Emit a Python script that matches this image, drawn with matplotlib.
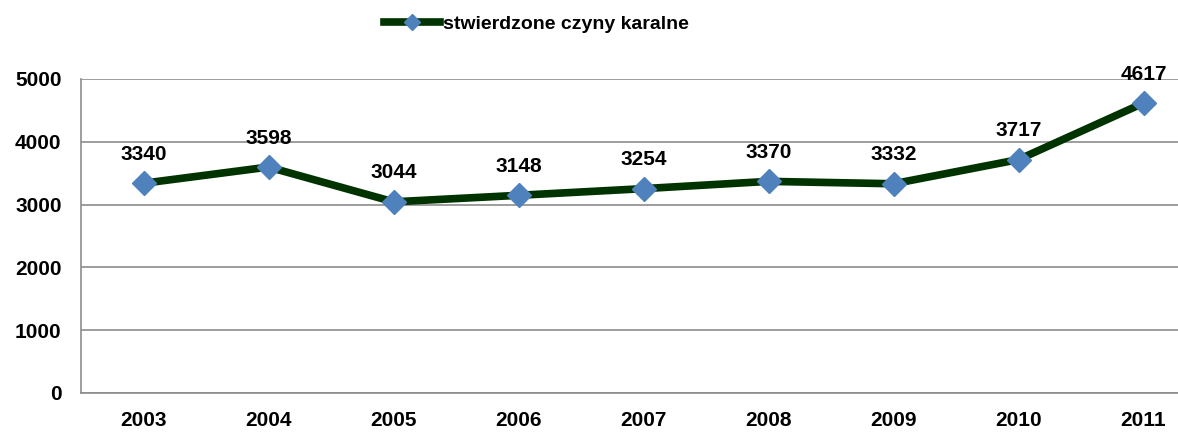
import matplotlib.pyplot as plt
from matplotlib.lines import Line2D

plt.rcParams['font.family'] = ['Liberation Sans', 'DejaVu Sans']

years = ['2003', '2004', '2005', '2006', '2007', '2008', '2009', '2010', '2011']
offences = [3340, 3598, 3044, 3148, 3254, 3370, 3332, 3717, 4617]
y_ticks = [0, 1000, 2000, 3000, 4000, 5000]

fig = plt.figure(figsize=(11.78, 4.33), dpi=100)
ax = fig.add_axes([81 / 1178, 40 / 433, 1 - 81 / 1178, 314 / 433])

x = list(range(len(years)))
ax.plot(x, offences, color='#003300', linewidth=5.5, zorder=3,
        marker='D', markersize=12, markerfacecolor='#4F81BD',
        markeredgecolor='#4F81BD')

for xi, v in zip(x, offences):
    ax.annotate(str(v), (xi, v), xytext=(0, 14), textcoords='offset points',
                ha='center', va='bottom', fontsize=15, fontweight='bold')

ax.set_ylim(0, 5000)
ax.set_xlim(-0.5, 1097 / 125 - 0.5)
ax.set_yticks(y_ticks)
ax.set_xticks(x)
ax.set_xticklabels(years)
ax.tick_params(length=0, labelsize=15)
ax.xaxis.set_tick_params(pad=13)
ax.yaxis.set_tick_params(pad=14)
for lbl in ax.get_xticklabels() + ax.get_yticklabels():
    lbl.set_fontweight('bold')

ax.grid(axis='y', color='#8c8c8c', linewidth=1.2)
ax.set_axisbelow(True)
for side in ['top', 'right']:
    ax.spines[side].set_visible(False)
for side in ['left', 'bottom']:
    ax.spines[side].set_color('#8c8c8c')
    ax.spines[side].set_linewidth(1.2)

handle = Line2D([0], [0], color='#003300', linewidth=5.5, marker='D',
                markersize=8, markerfacecolor='#4F81BD', markeredgecolor='#4F81BD')
fig.legend([handle], ['stwierdzone czyny karalne'], loc='center left',
           bbox_to_anchor=(384 / 1178, 1 - 24 / 433), frameon=False,
           borderpad=0, borderaxespad=0,
           prop={'weight': 'bold', 'size': 14}, handlelength=2.9, handletextpad=0.15)

fig.savefig('out.png', dpi=100)
